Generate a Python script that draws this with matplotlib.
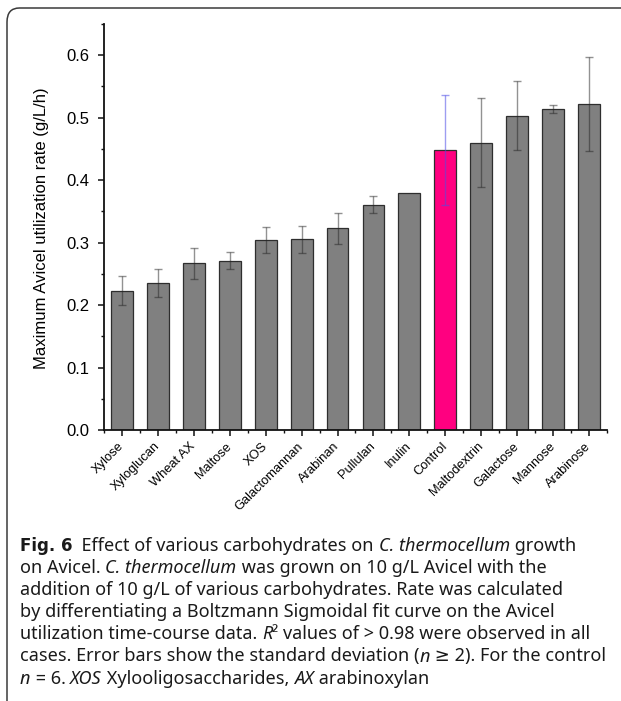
import numpy as np
import matplotlib
matplotlib.use("Agg")
import matplotlib.pyplot as plt
from matplotlib.patches import FancyBboxPatch
from matplotlib.ticker import MultipleLocator

categories = ["Xylose", "Xyloglucan", "Wheat AX", "Maltose", "XOS", "Galactomannan",
              "Arabinan", "Pullulan", "Inulin", "Control", "Maltodextrin",
              "Galactose", "Mannose", "Arabinose"]
rates = [0.223, 0.235, 0.267, 0.271, 0.304, 0.305, 0.323, 0.361, 0.380,
         0.448, 0.460, 0.503, 0.514, 0.522]
errors = [0.023, 0.022, 0.025, 0.014, 0.021, 0.021, 0.025, 0.014, 0.0,
          0.088, 0.071, 0.055, 0.006, 0.075]

# caption as runs of (text, style): n = normal, b = bold, i = italic
caption_lines = [
    [("Fig. 6", "b"), ("  Effect of various carbohydrates on ", "n"),
     ("C. thermocellum", "i"), (" growth", "n")],
    [("on Avicel. ", "n"), ("C. thermocellum", "i"),
     (" was grown on 10 g/L Avicel with the", "n")],
    [("addition of 10 g/L of various carbohydrates. Rate was calculated", "n")],
    [("by differentiating a Boltzmann Sigmoidal fit curve on the Avicel", "n")],
    [("utilization time-course data. ", "n"), ("R", "i"),
     ("\u00b2 values of > 0.98 were observed in all", "n")],
    [("cases. Error bars show the standard deviation (", "n"), ("n", "i"),
     (" \u2265 2). For the control", "n")],
    [("n", "i"), (" = 6. ", "n"), ("XOS", "i"), (" Xylooligosaccharides, ", "n"),
     ("AX", "i"), (" arabinoxylan", "n")],
]

plt.rcParams["font.family"] = ["Liberation Sans", "DejaVu Sans"]

W, H = 621, 701
fig = plt.figure(figsize=(W / 100, H / 100), dpi=100)

# rounded frame around figure + caption
frame = FancyBboxPatch((7 / W, -0.05), 1.2, 1 - 8 / H + 0.05,
                       boxstyle="round,pad=0,rounding_size=0.02",
                       transform=fig.transFigure, facecolor="none",
                       edgecolor="#3a3a3a", linewidth=1.1)
fig.patches.append(frame)

ax = fig.add_axes([104 / W, 1 - 430 / H, (607 - 104) / W, (430 - 24) / H])
x = np.arange(len(categories))
colors = ["#808080"] * len(categories)
colors[categories.index("Control")] = "#ff0080"
ax.bar(x, rates, width=0.61, color=colors, edgecolor="#2e2e2e", linewidth=0.9, zorder=2)

for i in range(len(categories)):
    if errors[i] == 0:
        continue
    ec = (0.3, 0.3, 0.9, 0.55) if categories[i] == "Control" else (0.15, 0.15, 0.15, 0.5)
    ax.errorbar(x[i], rates[i], yerr=errors[i], fmt="none", ecolor=ec,
                elinewidth=1.0, capsize=3, capthick=1.0, zorder=3)

ax.set_xlim(-0.5, 13.5)
ax.set_ylim(0, 0.65)
ax.yaxis.set_minor_locator(MultipleLocator(0.05))
ax.set_xticks(x)
ax.set_xticks(np.arange(-0.5, 14, 1), minor=True)
ax.set_xticklabels(categories, rotation=45, ha="right", va="center",
                   rotation_mode="anchor", fontsize=9.3)
yt = np.arange(0, 0.61, 0.1)
ax.set_yticks(yt)
ax.set_yticklabels([f"{v:.1f}" for v in yt], fontsize=12)
ax.tick_params(axis="both", which="major", direction="out", length=4.5, width=1.1, color="#111")
ax.tick_params(axis="both", which="minor", direction="out", length=2.5, width=1.0, color="#111")
ax.tick_params(axis="x", which="major", pad=6)
ax.tick_params(axis="y", which="major", pad=6)
for s in ["top", "right"]:
    ax.spines[s].set_visible(False)
for s in ["left", "bottom"]:
    ax.spines[s].set_linewidth(1.3)
    ax.spines[s].set_color("#111")
ax.set_facecolor("none")
fig.text(42 / W, 1 - 228 / H, "Maximum Avicel utilization rate (g/L/h)", fontsize=12,
         rotation=90, ha="center", va="center")

# caption, drawn run by run
renderer = fig.canvas.get_renderer()
styles = {
    "n": {"family": ["Noto Sans", "DejaVu Sans"]},
    "i": {"family": ["Noto Sans", "DejaVu Sans"], "fontstyle": "italic"},
    "b": {"family": ["DejaVu Sans"], "fontweight": "bold", "fontsize": 12},
}
y0 = 546
for k, runs in enumerate(caption_lines):
    xp = 20
    yp = 1 - (y0 + k * 22.1) / H
    for txt, st in runs:
        kw = {"fontsize": 13}
        kw.update(styles[st])
        t = fig.text(xp / W, yp, txt, va="center", ha="left", color="#1a1a1a", **kw)
        xp += t.get_window_extent(renderer).width

fig.savefig("out.png", dpi=100)
